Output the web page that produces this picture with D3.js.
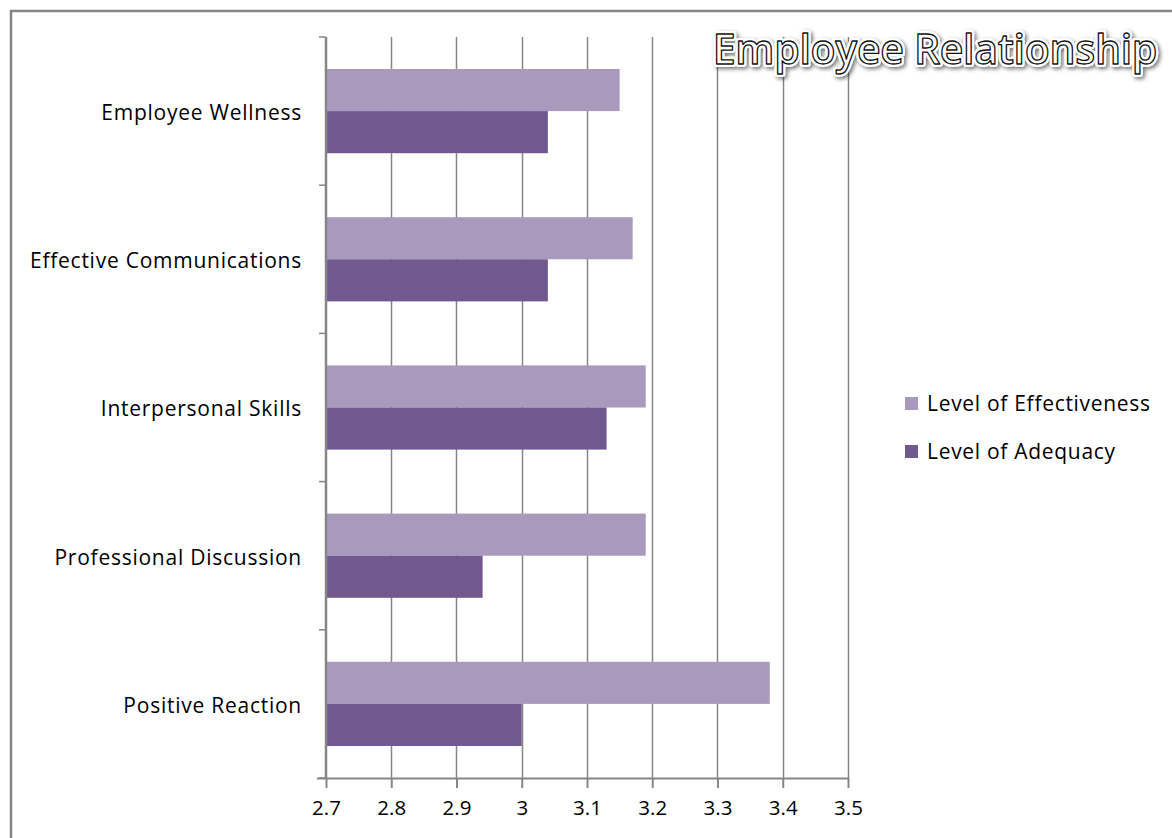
<!DOCTYPE html>
<html>
<head>
<meta charset="utf-8">
<script src="https://cdn.jsdelivr.net/npm/d3@7/dist/d3.min.js"></script>
<style>
  html, body { margin: 0; padding: 0; background: #fff; }
  svg { display: block; }
  text { font-family: "Open Sans", Lato, "DejaVu Sans", sans-serif; fill: #000; }
</style>
</head>
<body>
<svg id="chart" width="1172" height="838"></svg>
<script>
// Survey ratings per employee-relationship area
const categories = [
  "Employee Wellness",
  "Effective Communications",
  "Interpersonal Skills",
  "Professional Discussion",
  "Positive Reaction"
];
const seriesNames = ["Level of Effectiveness", "Level of Adequacy"];
const effectiveness = [3.15, 3.17, 3.19, 3.19, 3.38];
const adequacy = [3.04, 3.04, 3.13, 2.94, 3.00];
const xTicks = [2.7, 2.8, 2.9, 3.0, 3.1, 3.2, 3.3, 3.4, 3.5];
const chartTitle = "Employee Relationship";

const colors = ["#A99ABD", "#71588F"];
const gridColor = "#868686";
const labelFont = "'Open Sans', Lato, sans-serif";

const svg = d3.select("#chart");

// outer chart frame (runs off the right and bottom edges)
svg.append("rect")
  .attr("x", 11).attr("y", 11)
  .attr("width", 1200).attr("height", 900)
  .attr("fill", "#fff")
  .attr("stroke", gridColor).attr("stroke-width", 2.5);

const plot = { left: 326, right: 848, top: 37, bottom: 778 };

const x = d3.scaleLinear().domain([2.7, 3.5]).range([plot.left, plot.right]);
const y = d3.scaleBand().domain(categories).range([plot.top, plot.bottom]).paddingInner(0).paddingOuter(0);
const ySub = d3.scaleBand().domain(seriesNames).range([0, y.bandwidth()])
  .paddingInner(0).paddingOuter(0.76);

// vertical gridlines
svg.append("g").selectAll("line")
  .data(xTicks.slice(1))
  .join("line")
  .attr("x1", d => Math.round(x(d)) + 0.5).attr("x2", d => Math.round(x(d)) + 0.5)
  .attr("y1", plot.top).attr("y2", plot.bottom)
  .attr("stroke", gridColor).attr("stroke-width", 1.5);

// bars
const rows = categories.map((c, i) => ({ cat: c, vals: [effectiveness[i], adequacy[i]] }));
const groups = svg.append("g").selectAll("g")
  .data(rows)
  .join("g")
  .attr("transform", d => `translate(0,${y(d.cat)})`);
groups.selectAll("rect")
  .data(d => d.vals.map((v, j) => ({ name: seriesNames[j], v, j })))
  .join("rect")
  .attr("x", x(2.7))
  .attr("y", d => ySub(d.name))
  .attr("width", d => x(d.v) - x(2.7))
  .attr("height", ySub.bandwidth())
  .attr("fill", d => colors[d.j]);

// bottom axis
const xAxis = d3.axisBottom(x)
  .tickValues(xTicks)
  .tickFormat(d3.format("~g"))
  .tickSizeInner(10).tickSizeOuter(0).tickPadding(8);
const gx = svg.append("g")
  .attr("transform", `translate(0,${plot.bottom})`)
  .call(xAxis);
gx.select(".domain").remove();
gx.append("line")
  .attr("x1", plot.left - 9).attr("x2", plot.right)
  .attr("y1", 0.5).attr("y2", 0.5)
  .attr("stroke", gridColor).attr("stroke-width", 2);
gx.selectAll(".tick line").attr("stroke", gridColor).attr("stroke-width", 2);
gx.selectAll(".tick text")
  .attr("font-size", 20.5)
  .attr("font-family", labelFont)
  .attr("fill", "#000")
  .attr("dy", "0.92em");

// left category axis
const yAxis = d3.axisLeft(y).tickSize(0).tickPadding(24);
const gy = svg.append("g")
  .attr("transform", `translate(${plot.left},0)`)
  .call(yAxis);
gy.select(".domain").remove();
gy.selectAll(".tick text")
  .attr("font-size", 21)
  .attr("font-family", labelFont)
  .attr("letter-spacing", 0.75)
  .attr("dy", "0.42em")
  .attr("fill", "#000");
gy.append("line")
  .attr("x1", 0).attr("x2", 0)
  .attr("y1", plot.top).attr("y2", plot.bottom)
  .attr("stroke", gridColor).attr("stroke-width", 2.5);
const boundaries = categories.map(c => y(c)).concat([plot.bottom]);
gy.selectAll(".bound")
  .data(boundaries)
  .join("line")
  .attr("class", "bound")
  .attr("x1", -7).attr("x2", 0)
  .attr("y1", d => d).attr("y2", d => d)
  .attr("stroke", gridColor).attr("stroke-width", 1.5);

// legend
const legend = svg.append("g").attr("transform", "translate(905,397)");
const li = legend.selectAll("g")
  .data(seriesNames)
  .join("g")
  .attr("transform", (d, i) => `translate(0,${i * 48})`);
li.append("rect")
  .attr("width", 13).attr("height", 13)
  .attr("fill", (d, i) => colors[i]);
li.append("text")
  .attr("x", 22).attr("y", 6.5)
  .attr("dy", "0.35em")
  .attr("font-size", 21)
  .attr("letter-spacing", 0.7)
  .text(d => d);

// title: white lettering with dark outline, white halo and soft grey shadow
const defs = svg.append("defs");
const f = defs.append("filter").attr("id", "halo")
  .attr("x", "-10%").attr("y", "-40%").attr("width", "120%").attr("height", "180%");
f.append("feGaussianBlur").attr("in", "SourceAlpha").attr("stdDeviation", 2.2).attr("result", "b");
f.append("feOffset").attr("in", "b").attr("dx", 1.5).attr("dy", 2).attr("result", "o");
f.append("feComponentTransfer").attr("in", "o").attr("result", "s")
  .append("feFuncA").attr("type", "linear").attr("slope", 0.55);
const m = f.append("feMerge");
m.append("feMergeNode").attr("in", "s");
m.append("feMergeNode").attr("in", "SourceGraphic");

const titleG = svg.append("g");
[["#fff", 6, "url(#halo)"], ["#111", 1.3, null]].forEach(([stroke, sw, filt]) => {
  const t = titleG.append("text")
    .attr("x", 1157).attr("y", 64)
    .attr("text-anchor", "end")
    .attr("font-size", 41)
    .attr("font-weight", 600)
    .attr("font-family", labelFont)
    .attr("letter-spacing", -0.3)
    .style("fill", "#fff")
    .attr("stroke", stroke).attr("stroke-width", sw)
    .attr("stroke-linejoin", "round")
    .text(chartTitle);
  if (filt) t.attr("filter", filt);
});
</script>
</body>
</html>
